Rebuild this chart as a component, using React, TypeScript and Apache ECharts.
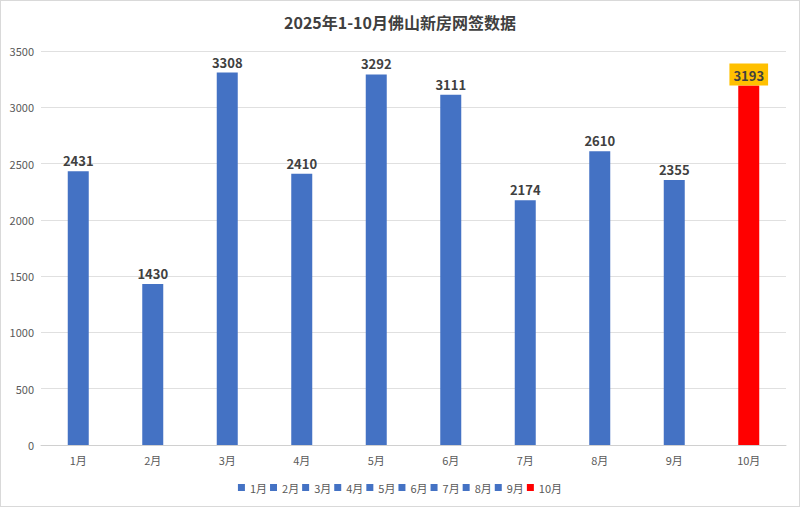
import { useEffect, useRef } from "react";
import * as echarts from "echarts";

const months = ["1月", "2月", "3月", "4月", "5月", "6月", "7月", "8月", "9月", "10月"];
const values = [2431, 1430, 3308, 2410, 3292, 3111, 2174, 2610, 2355, 3193];
const colors = ["#4472C4", "#4472C4", "#4472C4", "#4472C4", "#4472C4", "#4472C4", "#4472C4", "#4472C4", "#4472C4", "#FF0000"];
const yTicks = [0, 500, 1000, 1500, 2000, 2500, 3000, 3500];

export default function App() {
  const ref = useRef<HTMLDivElement>(null);

  useEffect(() => {
    document.body.style.margin = "0";
    if (!ref.current) return;
    const chart = echarts.init(ref.current, undefined, { renderer: "svg" });
    const font = "'Microsoft YaHei', 'Noto Sans CJK SC', sans-serif";

    chart.setOption({
      animation: false,
      backgroundColor: "#fff",
      textStyle: { fontFamily: font },
      title: {
        text: "2025年1-10月佛山新房网签数据",
        left: "center",
        top: 8,
        textStyle: { fontSize: 16, fontWeight: "bold", color: "#404040", fontFamily: font },
      },
      grid: { left: 40, right: 13, top: 50, bottom: 61, outerBoundsMode: "none" },
      legend: {
        bottom: 8,
        left: "center",
        icon: "rect",
        itemWidth: 7,
        itemHeight: 7,
        itemGap: 3,
        textStyle: { color: "#595959", fontSize: 11 },
        data: months,
      },
      xAxis: {
        type: "category",
        data: months,
        axisLine: { lineStyle: { color: "#D0D0D0" } },
        axisTick: { show: false },
        axisLabel: { color: "#595959", fontSize: 11, margin: 9 },
      },
      yAxis: {
        type: "value",
        min: yTicks[0],
        max: yTicks[yTicks.length - 1],
        interval: 500,
        axisLine: { show: false },
        axisTick: { show: false },
        splitLine: { lineStyle: { color: "#E0E0E0" } },
        axisLabel: { color: "#595959", fontSize: 11, margin: 7, formatter: (v: number) => String(v) },
      },
      series: months.map((m, i) => ({
        name: m,
        type: "bar",
        stack: "total",
        barWidth: 21,
        itemStyle: { color: colors[i] },
        data: values.map((v, j) => (j === i ? v : null)),
        label: {
          show: true,
          position: "top",
          distance: 4,
          color: "#404040",
          fontSize: 13,
          fontWeight: "bold",
          ...(i === 9
            ? { backgroundColor: "#FFC000", padding: [5, 4, 4, 4], distance: 0 }
            : {}),
        },
      })),
    });

    return () => chart.dispose();
  }, []);

  return (
    <div
      style={{
        width: 800,
        height: 507,
        boxSizing: "border-box",
        border: "1px solid #D9D9D9",
      }}
    >
      <div ref={ref} style={{ width: 798, height: 505 }} />
    </div>
  );
}
